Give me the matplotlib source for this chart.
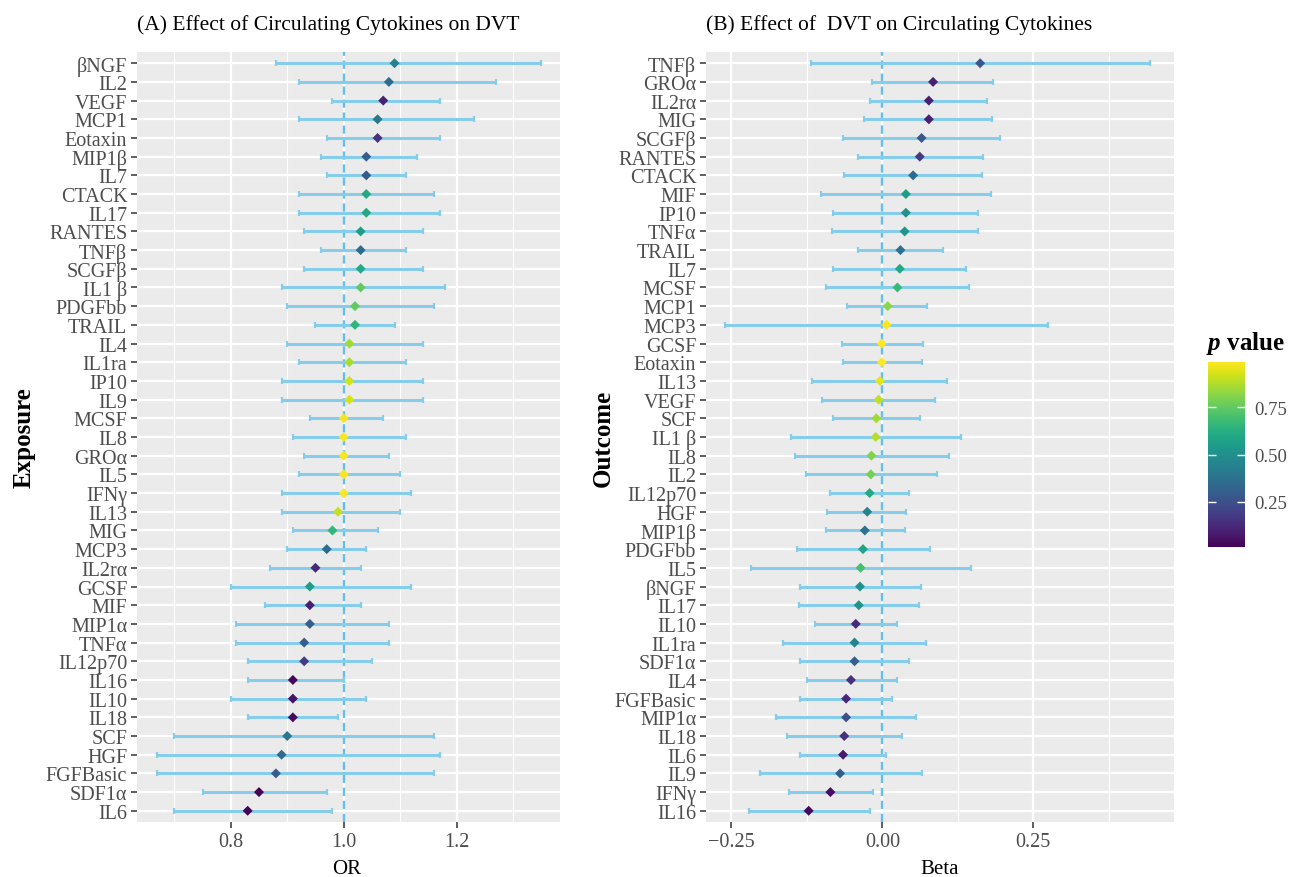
import numpy as np
import matplotlib
matplotlib.use('Agg')
import matplotlib.pyplot as plt
from matplotlib.colors import Normalize
from matplotlib.cm import ScalarMappable
from matplotlib.ticker import MultipleLocator

plt.rcParams['font.family'] = ['Liberation Serif', 'DejaVu Serif']
plt.rcParams['mathtext.fontset'] = 'custom'
plt.rcParams['mathtext.it'] = 'Liberation Serif:italic:bold'
plt.rcParams['mathtext.rm'] = 'Liberation Serif:bold'

# (A) cytokines -> DVT, top to bottom
exp_names = ['βNGF', 'IL2', 'VEGF', 'MCP1', 'Eotaxin', 'MIP1β', 'IL7', 'CTACK', 'IL17',
             'RANTES', 'TNFβ', 'SCGFβ', 'IL1 β', 'PDGFbb', 'TRAIL', 'IL4', 'IL1ra', 'IP10',
             'IL9', 'MCSF', 'IL8', 'GROα', 'IL5', 'IFNγ', 'IL13', 'MIG', 'MCP3', 'IL2rα',
             'GCSF', 'MIF', 'MIP1α', 'TNFα', 'IL12p70', 'IL16', 'IL10', 'IL18', 'SCF',
             'HGF', 'FGFBasic', 'SDF1α', 'IL6']
exp_or = [1.09, 1.08, 1.07, 1.06, 1.06, 1.04, 1.04, 1.04, 1.04, 1.03, 1.03, 1.03, 1.03,
          1.02, 1.02, 1.01, 1.01, 1.01, 1.01, 1.00, 1.00, 1.00, 1.00, 1.00, 0.99, 0.98,
          0.97, 0.95, 0.94, 0.94, 0.94, 0.93, 0.93, 0.91, 0.91, 0.91, 0.90, 0.89, 0.88,
          0.85, 0.83]
exp_lo = [0.88, 0.92, 0.98, 0.92, 0.97, 0.96, 0.97, 0.92, 0.92, 0.93, 0.96, 0.93, 0.89,
          0.90, 0.95, 0.90, 0.92, 0.89, 0.89, 0.94, 0.91, 0.93, 0.92, 0.89, 0.89, 0.91,
          0.90, 0.87, 0.80, 0.86, 0.81, 0.81, 0.83, 0.83, 0.80, 0.83, 0.70, 0.67, 0.67,
          0.75, 0.70]
exp_hi = [1.35, 1.27, 1.17, 1.23, 1.17, 1.13, 1.11, 1.16, 1.17, 1.14, 1.11, 1.14, 1.18,
          1.16, 1.09, 1.14, 1.11, 1.14, 1.14, 1.07, 1.11, 1.08, 1.10, 1.12, 1.10, 1.06,
          1.04, 1.03, 1.12, 1.03, 1.08, 1.08, 1.05, 1.00, 1.04, 0.99, 1.16, 1.17, 1.16,
          0.97, 0.98]
exp_p = [0.45, 0.35, 0.10, 0.40, 0.15, 0.30, 0.28, 0.60, 0.60, 0.55, 0.35, 0.60, 0.75,
         0.75, 0.65, 0.85, 0.86, 0.92, 0.93, 0.97, 0.98, 0.98, 0.98, 0.988, 0.90, 0.65,
         0.35, 0.12, 0.55, 0.10, 0.30, 0.30, 0.18, 0.03, 0.06, 0.04, 0.40, 0.35, 0.30,
         0.012, 0.02]

# (B) DVT -> cytokines, top to bottom
out_names = ['TNFβ', 'GROα', 'IL2rα', 'MIG', 'SCGFβ', 'RANTES', 'CTACK', 'MIF', 'IP10',
             'TNFα', 'TRAIL', 'IL7', 'MCSF', 'MCP1', 'MCP3', 'GCSF', 'Eotaxin', 'IL13',
             'VEGF', 'SCF', 'IL1 β', 'IL8', 'IL2', 'IL12p70', 'HGF', 'MIP1β', 'PDGFbb',
             'IL5', 'βNGF', 'IL17', 'IL10', 'IL1ra', 'SDF1α', 'IL4', 'FGFBasic', 'MIP1α',
             'IL18', 'IL6', 'IL9', 'IFNγ', 'IL16']
out_beta = [0.162, 0.084, 0.077, 0.077, 0.065, 0.062, 0.051, 0.039, 0.039, 0.037, 0.030,
            0.029, 0.025, 0.009, 0.007, -0.001, -0.001, -0.004, -0.006, -0.010, -0.011,
            -0.018, -0.019, -0.021, -0.025, -0.029, -0.032, -0.036, -0.037, -0.039,
            -0.044, -0.046, -0.046, -0.052, -0.060, -0.060, -0.063, -0.065, -0.070,
            -0.086, -0.122]
out_lo = [-0.118, -0.017, -0.021, -0.030, -0.065, -0.040, -0.064, -0.102, -0.081, -0.084,
          -0.041, -0.082, -0.094, -0.058, -0.260, -0.067, -0.065, -0.117, -0.100, -0.082,
          -0.152, -0.145, -0.127, -0.087, -0.091, -0.094, -0.141, -0.217, -0.137, -0.138,
          -0.111, -0.165, -0.136, -0.125, -0.136, -0.176, -0.158, -0.137, -0.202, -0.154,
          -0.221]
out_hi = [0.443, 0.184, 0.174, 0.182, 0.195, 0.166, 0.165, 0.180, 0.159, 0.159, 0.101,
          0.139, 0.143, 0.074, 0.274, 0.067, 0.066, 0.107, 0.088, 0.063, 0.131, 0.111,
          0.090, 0.044, 0.039, 0.037, 0.079, 0.147, 0.064, 0.061, 0.024, 0.073, 0.044,
          0.024, 0.016, 0.055, 0.033, 0.006, 0.065, -0.015, -0.021]
out_p = [0.28, 0.10, 0.10, 0.10, 0.28, 0.18, 0.35, 0.55, 0.50, 0.52, 0.38, 0.60, 0.67,
         0.82, 0.98, 0.985, 0.985, 0.95, 0.90, 0.85, 0.88, 0.80, 0.78, 0.60, 0.45, 0.38,
         0.58, 0.70, 0.50, 0.50, 0.13, 0.45, 0.30, 0.15, 0.12, 0.25, 0.15, 0.08, 0.30,
         0.05, 0.04]

W, H = 1295, 878
BAR = '#85CDEB'
DASH = '#64C0E8'
TXT = '#4D4D4D'
norm = Normalize(vmin=min(exp_p + out_p), vmax=max(exp_p + out_p))
cmap = plt.get_cmap('viridis')

fig = plt.figure(figsize=(W / 100, H / 100), dpi=100)


def px_axes(l, t, r, b):
    return fig.add_axes([l / W, 1 - b / H, (r - l) / W, (b - t) / H])


def forest(ax, names, est, lo, hi, pv, ref, major, minor, fmt):
    n = len(names)
    y = np.arange(n)
    est = np.array(est)
    err = [est - np.array(lo), np.array(hi) - est]
    ax.set_facecolor('#EBEBEB')
    ax.axvline(ref, color=DASH, lw=1.7, ls=(0, (3.5, 2)), zorder=2)
    ax.errorbar(est, y, xerr=err, fmt='none', ecolor=BAR, elinewidth=2.2,
                capsize=1.9, capthick=1.6, zorder=3)
    ax.scatter(est, y, c=pv, cmap=cmap, norm=norm, marker='D', s=26,
               edgecolors='none', zorder=4)
    ax.set_yticks(y)
    ax.set_yticklabels(names)
    ax.set_ylim(n - 1 + 0.6, -0.6)
    ax.xaxis.set_major_locator(MultipleLocator(major))
    ax.xaxis.set_minor_locator(MultipleLocator(minor))
    ax.xaxis.set_major_formatter(plt.FuncFormatter(lambda v, p: fmt.format(v).replace('-', '\u2212')))
    ax.grid(which='major', color='white', lw=1.6, zorder=0)
    ax.grid(which='minor', axis='x', color='white', lw=0.8, zorder=0)
    ax.set_axisbelow(True)
    for s in ax.spines.values():
        s.set_visible(False)
    ax.tick_params(which='major', length=4.5, width=1.1, color='#333333',
                   labelsize=14.5, labelcolor=TXT, pad=2.5)
    ax.tick_params(which='minor', length=0)


axA = px_axes(137, 53, 560, 823)
forest(axA, exp_names, exp_or, exp_lo, exp_hi, exp_p, 1.0, 0.2, 0.1, '{:.1f}')
axA.set_xlim(0.634, 1.383)

axB = px_axes(706, 53, 1174, 823)
forest(axB, out_names, out_beta, out_lo, out_hi, out_p, 0.0, 0.25, 0.125, '{:.2f}')
axB.set_xlim(-0.292, 0.483)

fig.text(137 / W, 1 - 30 / H, '(A) Effect of Circulating Cytokines on DVT',
         fontsize=15.5, ha='left', va='baseline')
fig.text(706 / W, 1 - 30 / H, '(B) Effect of  DVT on Circulating Cytokines',
         fontsize=15.5, ha='left', va='baseline')

fig.text(347 / W, 1 - 874 / H, 'OR', fontsize=15, ha='center', va='baseline')
fig.text(940 / W, 1 - 874 / H, 'Beta', fontsize=15, ha='center', va='baseline')
fig.text(24 / W, 1 - 438 / H, 'Exposure', fontsize=18, fontweight='bold',
         rotation=90, ha='center', va='center')
fig.text(603 / W, 1 - 438 / H, 'Outcome', fontsize=18, fontweight='bold',
         rotation=90, ha='center', va='center')

# colour bar for p value
cax = px_axes(1208, 363, 1245, 548)
sm = ScalarMappable(norm=norm, cmap=cmap)
cb = fig.colorbar(sm, cax=cax, ticks=[0.25, 0.50, 0.75])
cb.outline.set_visible(False)
cb.ax.set_yticklabels(['0.25', '0.50', '0.75'])
cb.ax.minorticks_off()
cb.ax.tick_params(direction='in', length=6, width=1, color='white', left=True,
                  right=True, labelleft=False, labelright=True,
                  labelcolor=TXT, labelsize=13.5, pad=7)
fig.text(1206 / W, 1 - 350 / H, r'$p$ value', fontsize=18, fontweight='bold',
         ha='left', va='baseline')

fig.savefig('out.png', dpi=100)
